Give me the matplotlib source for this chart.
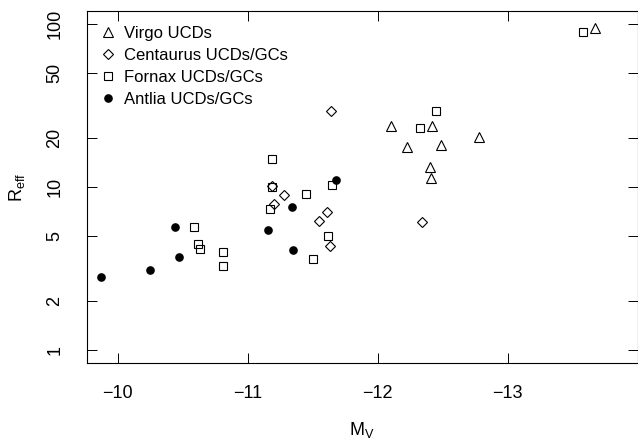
import matplotlib
matplotlib.use("Agg")
import matplotlib.pyplot as plt
import numpy as np

# absolute magnitude M_V and effective radius R_eff (pc)
virgo_mv = [-12.10, -12.42, -12.78, -12.23, -12.49, -12.40, -12.41, -13.67]
virgo_reff = [23.7, 23.6, 20.3, 17.6, 18.1, 13.3, 11.4, 94.0]

centaurus_mv = [-11.64, -11.19, -11.28, -11.20, -11.61, -11.55, -11.63, -12.34]
centaurus_reff = [29.4, 10.1, 8.93, 7.83, 7.06, 6.19, 4.35, 6.10]

fornax_mv = [-11.19, -11.19, -11.45, -11.65, -11.17, -11.62, -11.50,
             -10.59, -10.62, -10.63, -10.81, -10.81, -12.45, -12.33, -13.58]
fornax_reff = [14.9, 10.0, 9.1, 10.3, 7.30, 5.0, 3.60,
               5.69, 4.49, 4.18, 3.99, 3.29, 29.4, 23.1, 89.3]

antlia_mv = [-11.68, -11.34, -11.16, -11.35, -10.44, -10.47, -10.25, -9.87]
antlia_reff = [11.0, 7.54, 5.43, 4.11, 5.69, 3.74, 3.08, 2.80]

x_ticks = [-10, -11, -12, -13]
y_ticks = [1, 2, 5, 10, 20, 50, 100]

plt.rcParams["font.family"] = ["Liberation Sans", "DejaVu Sans"]

fig = plt.figure(figsize=(6.38, 4.41), dpi=100)
ax = fig.add_axes([87 / 638, 78 / 441, 550.5 / 638, 352 / 441])

ax.plot(virgo_mv, virgo_reff, linestyle="none", marker="^", ms=7.5,
        mfc="none", mec="black", mew=0.8, label="Virgo UCDs")
ax.plot(centaurus_mv, centaurus_reff, linestyle="none", marker="D", ms=5.2,
        mfc="none", mec="black", mew=0.8, label="Centaurus UCDs/GCs")
ax.plot(fornax_mv, fornax_reff, linestyle="none", marker="s", ms=5.8,
        mfc="none", mec="black", mew=0.8, label="Fornax UCDs/GCs")
ax.plot(antlia_mv, antlia_reff, linestyle="none", marker="o", ms=5.2,
        mfc="black", mec="black", label="Antlia UCDs/GCs")

ax.set_yscale("log")
ax.set_xlim(-9.764, -14.0)
ax.set_ylim(0.832, 120)
ax.set_xticks(x_ticks)
ax.set_xticklabels([f"\u2212{abs(t)}" for t in x_ticks])
ax.set_yticks(y_ticks)
ax.set_yticklabels([str(t) for t in y_ticks], rotation=90, va="center")
ax.yaxis.set_minor_locator(matplotlib.ticker.NullLocator())

ax.tick_params(direction="in", length=7.2, width=0.7, labelsize=13,
               top=True, right=True, labeltop=False, labelright=False)
ax.tick_params(axis="x", pad=16)
ax.tick_params(axis="y", pad=17)
for sp in ax.spines.values():
    sp.set_linewidth(0.8)

ax.set_xlabel(r"M$_\mathregular{V}$", fontsize=13, labelpad=13)
ax.set_ylabel(r"R$_\mathregular{eff}$", fontsize=13, labelpad=14)

ax.legend(loc="upper left", bbox_to_anchor=(-0.009, 1.003), frameon=False,
          fontsize=12, handletextpad=0.35, labelspacing=0.42,
          borderaxespad=0.2, handlelength=1.2, borderpad=0.75)

fig.savefig("out.png", dpi=100)
